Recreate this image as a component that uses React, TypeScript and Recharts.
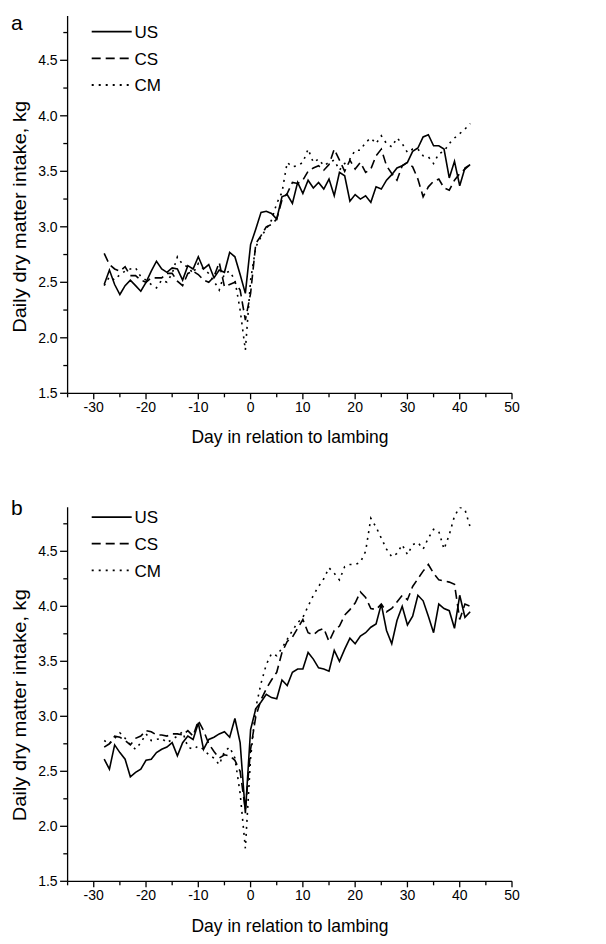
import { Line, LineChart, XAxis, YAxis } from 'recharts'

// days -28 .. 42 relative to lambing
const FIRST_DAY = -28

// panel a
const US_A = [
  2.48, 2.61, 2.48, 2.39, 2.47, 2.52, 2.47, 2.42, 2.5, 2.6, 2.69, 2.62, 2.59, 2.63, 2.62, 2.52, 2.65, 2.62, 2.73, 2.62,
  2.66, 2.54, 2.61, 2.59, 2.77, 2.73, 2.57, 2.4,
  2.84, 2.98, 3.13, 3.14, 3.12, 3.07, 3.27, 3.29, 3.21, 3.4, 3.3, 3.42, 3.35, 3.4, 3.34, 3.43, 3.28, 3.49, 3.46, 3.23,
  3.29, 3.25, 3.28, 3.22, 3.36, 3.34, 3.42, 3.47, 3.53, 3.55, 3.58, 3.68, 3.71, 3.81, 3.83, 3.73, 3.73, 3.7, 3.44, 3.59,
  3.37, 3.53, 3.56,
]
const CS_A = [
  2.76, 2.66, 2.62, 2.6, 2.64, 2.56, 2.56, 2.52, 2.5, 2.54, 2.54, 2.54, 2.58, 2.58, 2.51, 2.47, 2.58, 2.6, 2.57, 2.52,
  2.5, 2.55, 2.68, 2.46, 2.48, 2.5, 2.43, 2.16,
  2.4, 2.85, 2.92, 3.0, 3.02, 3.07, 3.24, 3.3, 3.4, 3.39, 3.42, 3.5, 3.53, 3.55, 3.51, 3.56, 3.7, 3.6, 3.5, 3.6,
  3.52, 3.58, 3.49, 3.52, 3.64, 3.7, 3.55, 3.48, 3.42, 3.55, 3.58, 3.54, 3.43, 3.27, 3.36, 3.41, 3.43, 3.35, 3.33, 3.42,
  3.48, 3.52, 3.56,
]
const CM_A = [
  2.47, 2.55, 2.52, 2.57, 2.6, 2.62, 2.63, 2.55, 2.52, 2.48, 2.45, 2.52, 2.5, 2.58, 2.73, 2.66, 2.64, 2.58, 2.67, 2.62,
  2.58, 2.51, 2.43, 2.58, 2.6, 2.52, 2.25, 1.89,
  2.52, 2.82, 2.91, 2.98, 3.06, 3.21, 3.31, 3.58, 3.54, 3.55, 3.58, 3.7, 3.58, 3.61, 3.55, 3.58, 3.6, 3.51, 3.57, 3.61,
  3.69, 3.69, 3.76, 3.8, 3.75, 3.82, 3.75, 3.72, 3.8, 3.75, 3.67, 3.7, 3.7, 3.64, 3.63, 3.57, 3.66, 3.68, 3.75, 3.8,
  3.84, 3.88, 3.93,
]

// panel b
const US_B = [
  2.61, 2.52, 2.74, 2.67, 2.61, 2.45, 2.49, 2.52, 2.6, 2.61, 2.67, 2.7, 2.72, 2.76, 2.64, 2.76, 2.82, 2.79, 2.94, 2.7,
  2.79, 2.81, 2.84, 2.86, 2.81, 2.98, 2.76, 2.12,
  2.88, 3.07, 3.13, 3.2, 3.17, 3.16, 3.33, 3.28, 3.4, 3.43, 3.43, 3.58, 3.52, 3.44, 3.43, 3.41, 3.6, 3.5, 3.61, 3.71,
  3.66, 3.73, 3.76, 3.81, 3.84, 4.02, 3.78, 3.66, 3.87, 4.0, 3.83, 3.91, 4.1, 4.05, 3.91, 3.76, 4.02, 3.98, 3.96, 3.8,
  4.1, 3.9, 3.95,
]
const CS_B = [
  2.72, 2.75, 2.82, 2.81, 2.78, 2.74, 2.8, 2.82, 2.87, 2.86, 2.83, 2.83, 2.82, 2.84, 2.84, 2.83, 2.87, 2.82, 2.96, 2.87,
  2.75, 2.68, 2.62, 2.65, 2.64, 2.6, 2.5, 2.15,
  2.7, 3.0, 3.15, 3.25, 3.33, 3.4, 3.58, 3.68, 3.72, 3.8, 3.88, 3.76, 3.74, 3.78, 3.8, 3.68, 3.78, 3.82, 3.92, 3.97,
  4.03, 4.13, 4.08, 3.98, 3.97, 4.02, 3.95, 3.98, 4.04, 4.1, 4.06, 4.18, 4.25, 4.32, 4.38, 4.3, 4.24, 4.23, 4.22, 4.2,
  3.88, 4.02, 4.0,
]
const CM_B = [
  2.78, 2.75, 2.8, 2.85, 2.8, 2.74, 2.7, 2.76, 2.84, 2.78, 2.79, 2.8, 2.76, 2.79, 2.82, 2.86, 2.72, 2.7, 2.73, 2.7,
  2.65, 2.62, 2.56, 2.68, 2.72, 2.62, 2.3, 1.8,
  2.62, 3.08, 3.3, 3.47, 3.57, 3.55, 3.62, 3.7, 3.78, 3.85, 3.9, 4.0, 4.1, 4.18, 4.25, 4.35, 4.3, 4.24, 4.36, 4.38,
  4.38, 4.4, 4.5, 4.8, 4.72, 4.62, 4.52, 4.45, 4.48, 4.56, 4.47, 4.56, 4.58, 4.52, 4.62, 4.7, 4.68, 4.52, 4.65, 4.82,
  4.9, 4.88, 4.72,
]

const SERIES_NAMES = ['US', 'CS', 'CM']
const DASHES = [undefined, '9 5', '2 5']

const X_TICKS = [-35, -30, -25, -20, -15, -10, -5, 0, 5, 10, 15, 20, 25, 30, 35, 40, 45, 50]
const Y_TICKS = [1.5, 1.75, 2, 2.25, 2.5, 2.75, 3, 3.25, 3.5, 3.75, 4, 4.25, 4.5, 4.75]

const FONT = "'Liberation Sans', Arial, sans-serif"
const AXIS_TITLE_X = 'Day in relation to lambing'
const AXIS_TITLE_Y = 'Daily dry matter intake, kg'

function buildRows(us: number[], cs: number[], cm: number[]) {
  return us.map((v, i) => ({ day: FIRST_DAY + i, US: v, CS: cs[i], CM: cm[i] }))
}

const ROWS_A = buildRows(US_A, CS_A, CM_A)
const ROWS_B = buildRows(US_B, CS_B, CM_B)

function XTick(props: any) {
  const { x, y, payload } = props
  const major = payload.value % 10 === 0
  return (
    <g>
      <line x1={x} x2={x} y1={y} y2={y + (major ? 6 : 4)} stroke="#000" strokeWidth={1.3} />
      {major && (
        <text x={x} y={y + 18.4} textAnchor="middle" fontSize={14} fontFamily={FONT} fill="#000">
          {payload.value}
        </text>
      )}
    </g>
  )
}

function YTick(props: any) {
  const { x, y, payload } = props
  const v = payload.value
  const major = Math.abs(v * 2 - Math.round(v * 2)) < 1e-6
  return (
    <g>
      <line x1={x} x2={x - (major ? 7.5 : 4.3)} y1={y} y2={y} stroke="#000" strokeWidth={1.3} />
      {major && (
        <text x={x - 10} y={y + 5} textAnchor="end" fontSize={14} fontFamily={FONT} fill="#000">
          {v.toFixed(1)}
        </text>
      )}
    </g>
  )
}

function Panel({ rows, top, marginTop }: { rows: any[]; top: number; marginTop: number }) {
  return (
    <div style={{ position: 'absolute', left: 0, top }}>
      <LineChart
        width={606}
        height={460}
        data={rows}
        margin={{ top: marginTop, right: 94, bottom: 36.7, left: 7.6 }}
      >
        <XAxis
          dataKey="day"
          type="number"
          domain={[-35, 50]}
          ticks={X_TICKS}
          interval={0}
          tickSize={0}
          tickMargin={0}
          tickLine={false}
          axisLine={{ stroke: '#000', strokeWidth: 1.3 }}
          height={30}
          tick={(p: any) => <XTick {...p} />}
          allowDataOverflow
        />
        <YAxis
          type="number"
          domain={[1.5, 4.9]}
          ticks={Y_TICKS}
          interval={0}
          tickSize={0}
          tickMargin={0}
          tickLine={false}
          axisLine={{ stroke: '#000', strokeWidth: 1.3 }}
          width={60}
          tick={(p: any) => <YTick {...p} />}
          allowDataOverflow
        />
        {SERIES_NAMES.map((name, i) => (
          <Line
            key={name}
            type="linear"
            dataKey={name}
            stroke="#000"
            strokeWidth={1.6}
            strokeDasharray={DASHES[i]}
            dot={false}
            activeDot={false}
            isAnimationActive={false}
          />
        ))}
      </LineChart>
    </div>
  )
}

function Labels({ dy, letter, legendShift }: { dy: number; letter: string; legendShift: number }) {
  const legendY = [31.7, 58.3, 85]
  return (
    <g fontFamily={FONT} fill="#000">
      <text x={11} y={30 + dy + legendShift} fontSize={21}>
        {letter}
      </text>
      {SERIES_NAMES.map((name, i) => (
        <g key={name}>
          <line
            x1={91.7}
            x2={131.7}
            y1={legendY[i] + dy + legendShift}
            y2={legendY[i] + dy + legendShift}
            stroke="#000"
            strokeWidth={1.8}
            strokeDasharray={DASHES[i]}
          />
          <text x={134.5} y={legendY[i] + dy + legendShift + 6.3} fontSize={17}>
            {name}
          </text>
        </g>
      ))}
      <text
        x={290}
        y={443.3 + dy}
        textAnchor="middle"
        fontSize={19}
        textLength={197}
        lengthAdjust="spacingAndGlyphs"
      >
        {AXIS_TITLE_X}
      </text>
      <text
        x={26}
        y={216.8 + dy}
        textAnchor="middle"
        fontSize={19}
        textLength={232}
        lengthAdjust="spacingAndGlyphs"
        transform={`rotate(-90, 26, ${216.8 + dy})`}
      >
        {AXIS_TITLE_Y}
      </text>
    </g>
  )
}

export default function App() {
  return (
    <div
      style={{
        position: 'absolute',
        left: 0,
        top: 0,
        width: 606,
        height: 944,
        background: '#fff',
        overflow: 'hidden',
      }}
    >
      <Panel rows={ROWS_A} top={0} marginTop={15.9} />
      <Panel rows={ROWS_B} top={488.4} marginTop={19.3} />
      <svg
        width={606}
        height={944}
        style={{ position: 'absolute', left: 0, top: 0, pointerEvents: 'none' }}
      >
        <Labels dy={0} letter="a" legendShift={0} />
        <Labels dy={488.4} letter="b" legendShift={-3} />
      </svg>
    </div>
  )
}
